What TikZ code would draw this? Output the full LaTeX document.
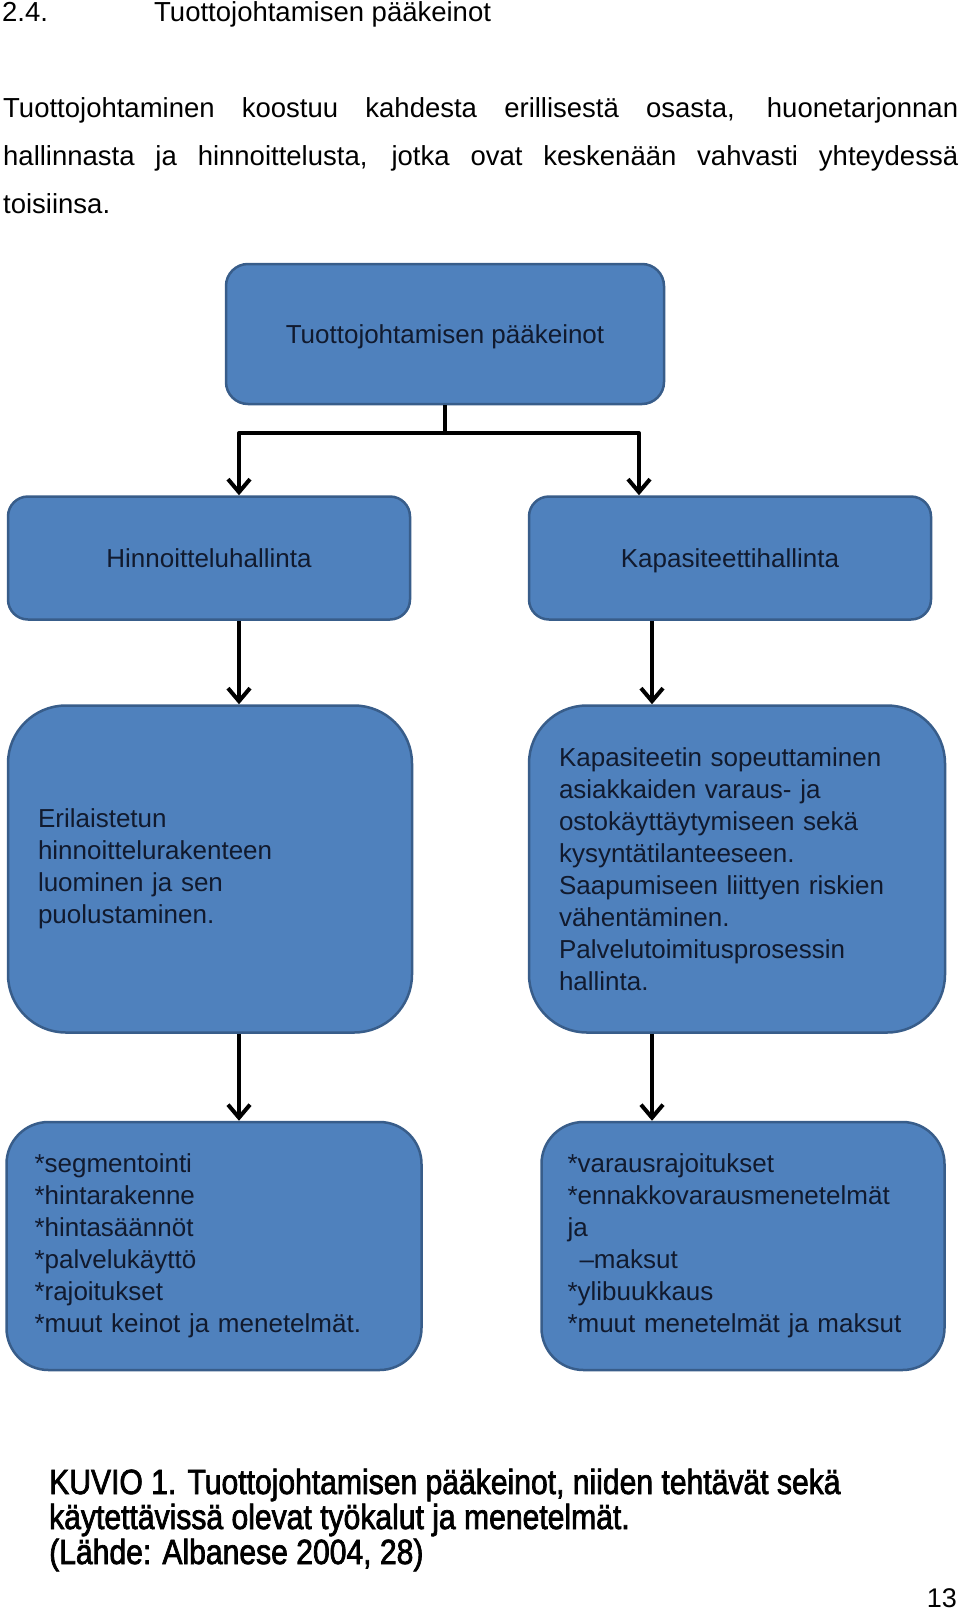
\documentclass[tikz,border=0pt]{standalone}
\usepackage{fontspec}
\setmainfont{Liberation Sans}
\newfontfamily\kuviofont[FakeStretch=0.86,FakeBold=2]{Liberation Sans}
\usepackage{xcolor}
\usetikzlibrary{arrows.meta}
\definecolor{laatikkosin}{HTML}{4F81BD}
\definecolor{reunasin}{HTML}{385D8A}
\definecolor{tekstisin}{HTML}{111A2E}

\begin{document}
\begin{tikzpicture}[x=1pt,y=-1pt,
		laatikko/.style={draw=reunasin, line width=2.5pt, fill=laatikkosin, rounded corners=#1, text=tekstisin, font=\fontsize{26}{32}\selectfont},
		laatikko/.default=20pt,
		yksirivi/.style={text height=22pt, text depth=3pt},
		nuoli/.style={line width=4pt, line join=round, -{Straight Barb[length=13pt,width=22pt,line width=4pt]}},
		leipa/.style={anchor=base west, inner sep=0pt, font=\fontsize{27.5}{48}\selectfont},
		kuvio/.style={anchor=base west, inner sep=0pt, font=\kuviofont\fontsize{35}{36}\selectfont}]
	\path[use as bounding box, fill=white] (0,0) rectangle (960,1611);
	\node[leipa] (numero) at (2,22) {2.4.};
	\node[leipa] (otsikko) at (154,22) {Tuottojohtamisen pääkeinot};
	\node[leipa] (rivi1) at (3,117) {\makebox[955pt][s]{Tuottojohtaminen koostuu kahdesta erillisestä osasta, huonetarjonnan}};
	\node[leipa] (rivi2) at (3,165) {\makebox[955pt][s]{hallinnasta ja hinnoittelusta, jotka ovat keskenään vahvasti yhteydessä}};
	\node[leipa] (rivi3) at (3,213) {toisiinsa.};

	\node[laatikko=22pt, yksirivi, minimum width=438pt, minimum height=140pt] (paa) at (445,334) {Tuottojohtamisen pääkeinot};
	\node[laatikko, yksirivi, minimum width=402pt, minimum height=123pt] (hinta) at (209,558) {Hinnoitteluhallinta};
	\node[laatikko, yksirivi, minimum width=402pt, minimum height=123pt] (kapa) at (730,558) {Kapasiteettihallinta};
	\node[laatikko=58pt, minimum height=327pt, inner xsep=30pt, text width=344pt, align=left] (hintateksti) at (210,869) {Erilaistetun\\hinnoittelurakenteen\\luominen ja sen\\puolustaminen.};
	\node[laatikko=58pt, minimum height=327pt, inner xsep=30pt, text width=356pt, align=left] (kapateksti) at (737,869) {Kapasiteetin sopeuttaminen\\asiakkaiden varaus- ja\\ostokäyttäytymiseen sekä\\kysyntätilanteeseen.\\Saapumiseen liittyen riskien\\vähentäminen.\\Palvelutoimitusprosessin\\hallinta.};
	\node[laatikko=42pt, minimum height=248pt, inner xsep=28pt, text width=359pt, align=left] (hintakeinot) at (214,1246) {*segmentointi\\{}*hintarakenne\\{}*hintasäännöt\\{}*palvelukäyttö\\{}*rajoitukset\\{}*muut keinot ja menetelmät.};
	\node[laatikko=42pt, minimum height=248pt, inner xsep=26pt, text width=351pt, align=left] (kapakeinot) at (743,1246) {*varausrajoitukset\\{}*ennakkovarausmenetelmät\\ja\\\hspace*{12pt}–maksut\\{}*ylibuukkaus\\{}*muut menetelmät ja maksut};

	\coordinate (jako) at (445,433);
	\coordinate (vasen) at (239,433);
	\coordinate (oikea) at (639,433);
	\coordinate (oikeaalas) at (652,620);
	\draw[line width=4pt] (paa.south) -- (jako);
	\draw[nuoli] (jako) -- (vasen) -- (vasen |- hinta.north);
	\draw[nuoli] (jako) -- (oikea) -- (oikea |- kapa.north);
	\draw[nuoli] (hinta.south -| vasen) -- (hintateksti.north -| vasen);
	\draw[nuoli] (hintateksti.south -| vasen) -- (hintakeinot.north -| vasen);
	\draw[nuoli] (kapa.south -| oikeaalas) -- (kapateksti.north -| oikeaalas);
	\draw[nuoli] (kapateksti.south -| oikeaalas) -- (kapakeinot.north -| oikeaalas);

	\node[kuvio] (kuvio1) at (49,1494) {KUVIO 1. Tuottojohtamisen pääkeinot, niiden tehtävät sekä};
	\node[kuvio] (kuvio2) at (49,1529) {käytettävissä olevat työkalut ja menetelmät.};
	\node[kuvio] (kuvio3) at (49,1564) {(Lähde: Albanese 2004, 28)};
	\node[anchor=base east, inner sep=0pt, font=\fontsize{27}{32}\selectfont] (sivu) at (957,1607) {13};
\end{tikzpicture}
\end{document}
